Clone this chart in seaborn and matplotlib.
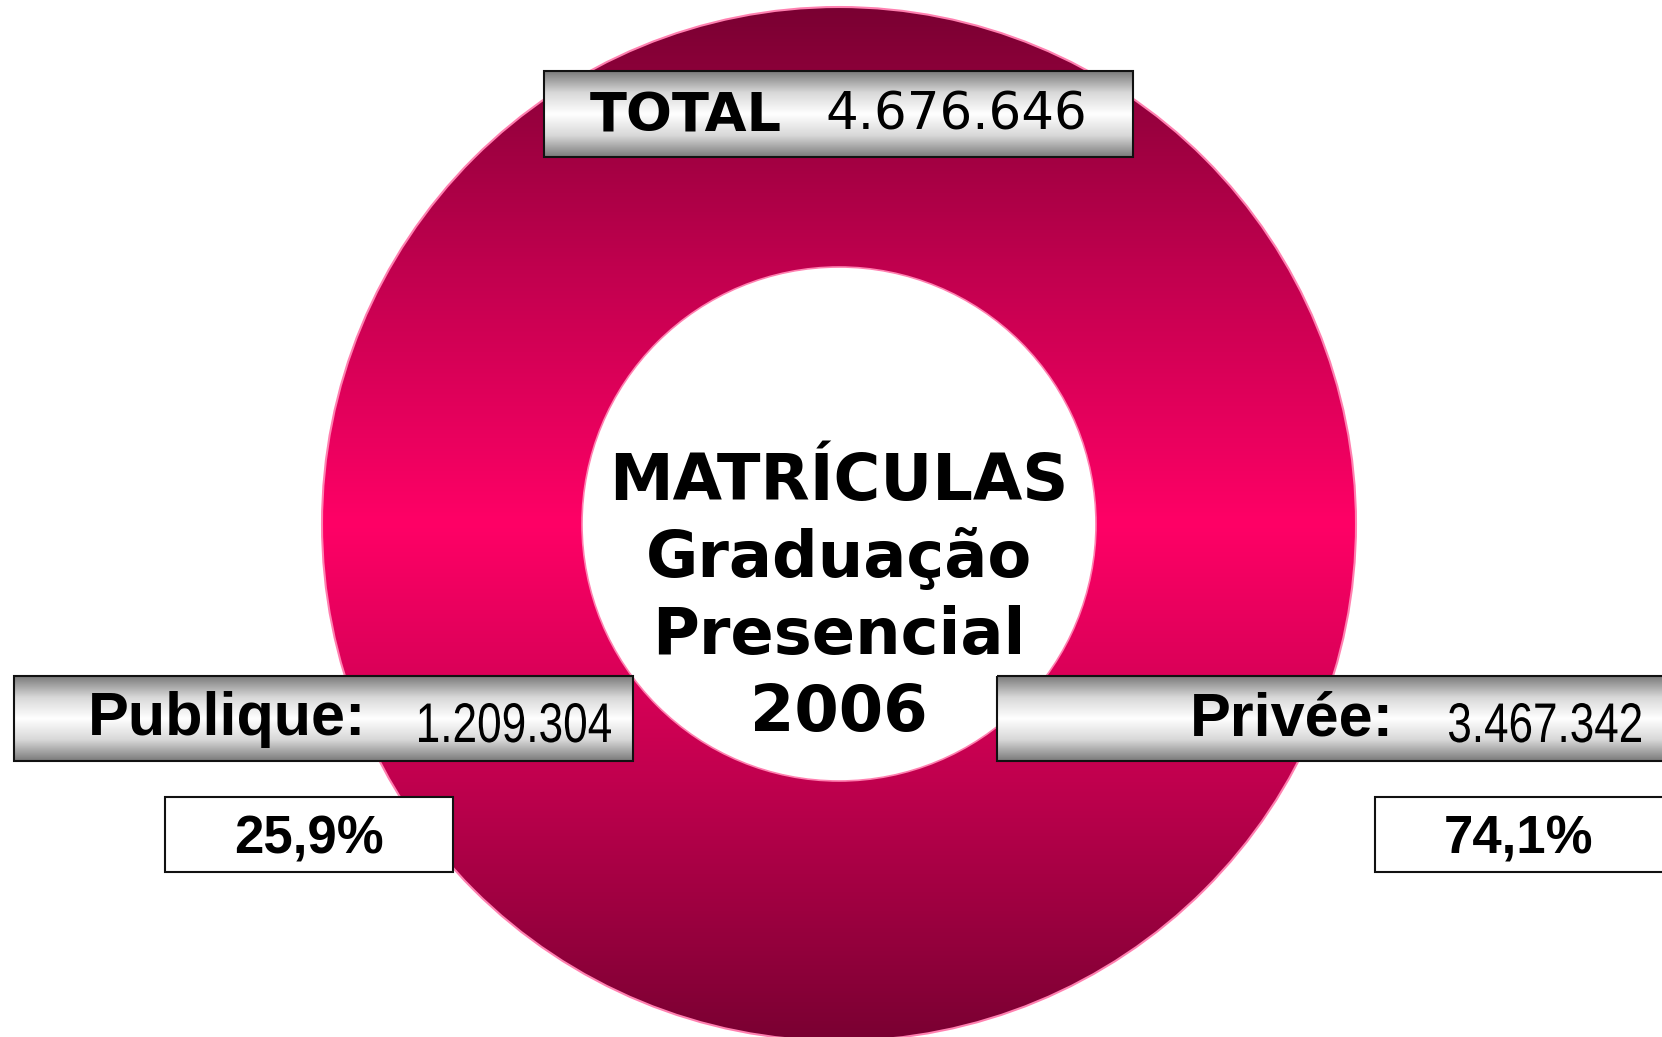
import matplotlib
matplotlib.use("Agg")
import matplotlib.pyplot as plt
from matplotlib.colors import LinearSegmentedColormap
from matplotlib.patches import Rectangle, Circle, PathPatch
from matplotlib.path import Path
from matplotlib.textpath import TextPath
from matplotlib.font_manager import FontProperties
from matplotlib.transforms import Affine2D
import seaborn as sns
import numpy as np

# data
sectors = ['Publique', 'Privée']
values = [1209304, 3467342]
value_labels = ['1.209.304', '3.467.342']
pct_labels = ['25,9%', '74,1%']
total_label = '4.676.646'
center_lines = ['MATRÍCULAS', 'Graduação', 'Presencial', '2006']

sns.set_theme(style="white")
plt.rcParams['font.family'] = ['DejaVu Sans']
plt.rcParams['text.color'] = 'black'

W, H = 1662, 1037
fig = plt.figure(figsize=(W / 100, H / 100), dpi=100)
ax = fig.add_axes([0, 0, 1, 1])

cx, cy, r_out, r_in = 839, 524, 517, 257
ring_cmap = LinearSegmentedColormap.from_list(
    'ring', ['#7a0032', '#c0004e', '#ff0066', '#c0004e', '#7a0032'])

wedges, _ = ax.pie(values, center=(cx, cy), radius=r_out, startangle=90,
                   counterclock=False,
                   wedgeprops=dict(width=r_out - r_in, edgecolor='none',
                                   linewidth=0, facecolor='none'))
# one clip path for the whole ring so no seam shows between the slices
ring_path = Path.make_compound_path(*[w.get_path() for w in wedges])
clip = PathPatch(ring_path, transform=ax.transData, facecolor='none',
                 edgecolor='none')
ax.add_patch(clip)
grad = np.linspace(0, 1, 512).reshape(-1, 1)
im = ax.imshow(grad, cmap=ring_cmap, aspect='auto', zorder=0.5,
               extent=(cx - r_out, cx + r_out, cy + r_out, cy - r_out),
               interpolation='bicubic')
im.set_clip_path(clip)
ax.add_patch(Circle((cx, cy), r_out, fill=False, edgecolor='#ff80b0',
                    linewidth=1.5, zorder=1))
ax.add_patch(Circle((cx, cy), r_in, fill=False, edgecolor='#ff80b0',
                    linewidth=1.2, zorder=1))

ax.set_xlim(0, W)
ax.set_ylim(H, 0)
ax.set_aspect('auto')
ax.axis('off')

box_cmap = LinearSegmentedColormap.from_list(
    'box', ['#7a7a7a', '#d8d8d8', '#ffffff', '#d8d8d8', '#7a7a7a'])


def grad_box(x0, y0, x1, y1):
    ax.imshow(np.linspace(0, 1, 256).reshape(-1, 1), cmap=box_cmap,
              aspect='auto', extent=(x0, x1, y1, y0), zorder=3,
              interpolation='bicubic')
    ax.add_patch(Rectangle((x0, y0), x1 - x0, y1 - y0, fill=False,
                           edgecolor='#111111', linewidth=1.5, zorder=4))


def white_box(x0, y0, x1, y1):
    ax.add_patch(Rectangle((x0, y0), x1 - x0, y1 - y0, facecolor='white',
                           edgecolor='#111111', linewidth=1.5, zorder=4))


def narrow_text(s, x_right, baseline, cap_h, width):
    # condensed digits, drawn as a path squeezed horizontally
    size = cap_h / 0.716
    tp = TextPath((0, 0), s, size=size,
                  prop=FontProperties(family='Liberation Sans'))
    ext = tp.get_extents()
    sx = width / ext.width
    tr = Affine2D().translate(-ext.x1, 0).scale(sx, -1).translate(x_right, baseline)
    ax.add_patch(PathPatch(tr.transform_path(tp), facecolor='black',
                           edgecolor='none', zorder=5))


# total
grad_box(544, 71, 1133, 157)
ax.text(590, 116, 'TOTAL', fontsize=39, fontweight='bold', ha='left',
        va='center', zorder=5)
ax.text(1087, 116, total_label, fontsize=37, ha='right', va='center',
        zorder=5)

# sector boxes
grad_box(14, 676, 633, 761)
ax.text(88, 720, sectors[0] + ':', fontsize=44, fontweight='bold',
        family='Liberation Sans', ha='left', va='center', zorder=5)
narrow_text(value_labels[0], 611, 742, 40, 192)

grad_box(997, 676, 1675, 761)
ax.text(1190, 720, sectors[1] + ':', fontsize=44, fontweight='bold',
        family='Liberation Sans', ha='left', va='center', zorder=5)
narrow_text(value_labels[1], 1641, 742, 40, 192)

white_box(165, 797, 453, 872)
ax.text(309, 840, pct_labels[0], fontsize=38, fontweight='bold',
        family='Liberation Sans', ha='center', va='center', zorder=5)
white_box(1375, 797, 1675, 872)
ax.text(1519, 840, pct_labels[1], fontsize=38, fontweight='bold',
        family='Liberation Sans', ha='center', va='center', zorder=5)

# centre title
for i, line in enumerate(center_lines):
    ax.text(839, 482 + i * 77, line, fontsize=46, fontweight='bold',
            ha='center', va='center', zorder=5)

fig.savefig('out.png', dpi=100, facecolor='white')
